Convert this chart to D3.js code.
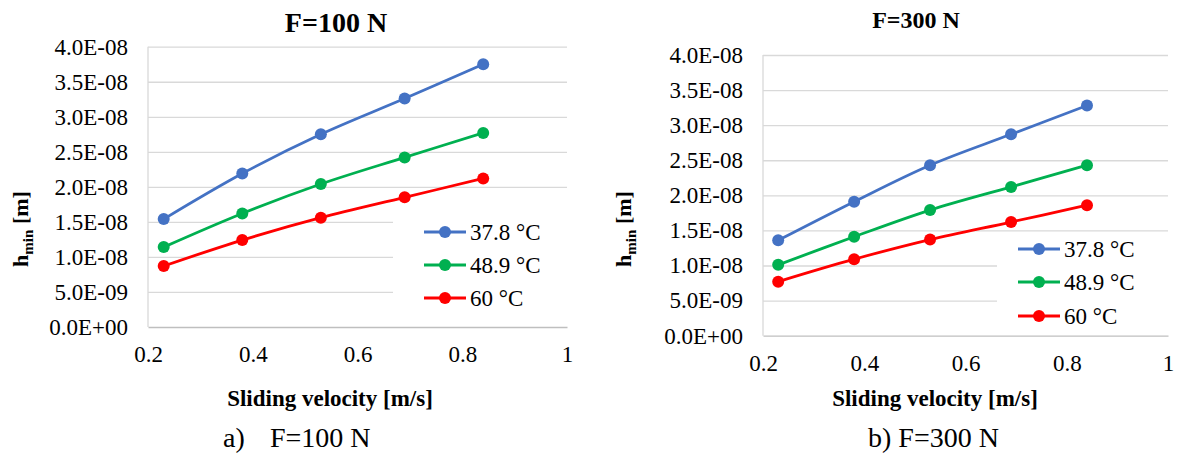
<!DOCTYPE html>
<html>
<head>
<meta charset="utf-8">
<script src="https://cdn.jsdelivr.net/npm/d3@7"></script>
<style>
  body { margin: 0; background: #fff; }
  svg text { font-family: "Liberation Serif", "Times New Roman", serif !important; white-space: pre; fill: #000; }
</style>
</head>
<body>
<div id="chart"></div>
<script>
// sliding velocity [m/s]
var velocity = [0.23, 0.38, 0.53, 0.69, 0.84];

// minimum film thickness [m], F = 100 N
var hmin100_378 = [1.54e-8, 2.19e-8, 2.75e-8, 3.26e-8, 3.75e-8];
var hmin100_489 = [1.14e-8, 1.62e-8, 2.04e-8, 2.42e-8, 2.77e-8];
var hmin100_60 = [0.87e-8, 1.24e-8, 1.56e-8, 1.85e-8, 2.12e-8];

// minimum film thickness [m], F = 300 N
var hmin300_378 = [1.36e-8, 1.91e-8, 2.43e-8, 2.87e-8, 3.28e-8];
var hmin300_489 = [1.01e-8, 1.41e-8, 1.79e-8, 2.12e-8, 2.43e-8];
var hmin300_60 = [0.77e-8, 1.09e-8, 1.37e-8, 1.62e-8, 1.86e-8];

var seriesNames = ["37.8 \u00B0C", "48.9 \u00B0C", "60 \u00B0C"];
var seriesColors = ["#4472C4", "#00B050", "#FF0000"];

var yTicks = [0, 5e-9, 1e-8, 1.5e-8, 2e-8, 2.5e-8, 3e-8, 3.5e-8, 4e-8];
var yTickLabels = ["0.0E+00", "5.0E-09", "1.0E-08", "1.5E-08", "2.0E-08",
                   "2.5E-08", "3.0E-08", "3.5E-08", "4.0E-08"];
var xTicks = [0.2, 0.4, 0.6, 0.8, 1];
var xTickLabels = ["0.2", "0.4", "0.6", "0.8", "1"];

var svg = d3.select("#chart")
    .append("svg")
    .attr("width", 1177)
    .attr("height", 456);

function drawChart(cfg) {
    var x = d3.scaleLinear().domain([0.2, 1]).range([cfg.left, cfg.right]);
    var y = d3.scaleLinear().domain([0, 4e-8]).range([cfg.bottom, cfg.top]);

    // gridlines
    svg.append("g")
        .attr("transform", `translate(${cfg.left},0)`)
        .call(d3.axisLeft(y).tickValues(yTicks.slice(1)).tickSize(-(cfg.right - cfg.left)).tickFormat(""))
        .call(g => g.select(".domain").remove())
        .call(g => g.selectAll("line").attr("stroke", "#d9d9d9").attr("stroke-width", 1.3));

    // vertical axis line
    svg.append("line")
        .attr("x1", cfg.left).attr("x2", cfg.left)
        .attr("y1", cfg.top).attr("y2", cfg.bottom)
        .attr("stroke", "#d9d9d9").attr("stroke-width", 1.3);

    // y tick labels
    svg.append("g")
        .attr("transform", `translate(${cfg.left},0)`)
        .call(d3.axisLeft(y).tickValues(yTicks).tickSize(0).tickPadding(20)
            .tickFormat((d, i) => yTickLabels[i]))
        .call(g => g.select(".domain").remove())
        .call(g => g.selectAll("text").attr("font-size", "23px"));

    // x axis
    svg.append("g")
        .attr("transform", `translate(0,${cfg.bottom})`)
        .call(d3.axisBottom(x).tickValues(xTicks).tickSize(0).tickPadding(19)
            .tickFormat((d, i) => xTickLabels[i]))
        .call(g => g.select(".domain").attr("stroke", "#bfbfbf").attr("stroke-width", 1.3))
        .call(g => g.selectAll("text").attr("font-size", "23px"));

    // legend background
    svg.append("rect")
        .attr("x", cfg.legend.x).attr("y", cfg.legend.y)
        .attr("width", cfg.legend.w).attr("height", cfg.legend.h)
        .attr("fill", "#fff");

    // series
    var line = d3.line()
        .x((d, i) => x(velocity[i]))
        .y(d => y(d))
        .curve(d3.curveCatmullRom);

    cfg.series.forEach(function (vals, k) {
        svg.append("path")
            .datum(vals)
            .attr("d", line)
            .attr("fill", "none")
            .attr("stroke", seriesColors[k])
            .attr("stroke-width", 2.8);
        svg.selectAll(null)
            .data(vals)
            .enter()
            .append("circle")
            .attr("cx", (d, i) => x(velocity[i]))
            .attr("cy", d => y(d))
            .attr("r", 6)
            .attr("fill", seriesColors[k]);
    });

    // legend entries
    seriesNames.forEach(function (name, k) {
        var ly = cfg.legend.rowY[k];
        svg.append("line")
            .attr("x1", cfg.legend.lx).attr("x2", cfg.legend.lx + 42)
            .attr("y1", ly).attr("y2", ly)
            .attr("stroke", seriesColors[k]).attr("stroke-width", 2.8);
        svg.append("circle")
            .attr("cx", cfg.legend.lx + 21).attr("cy", ly).attr("r", 6)
            .attr("fill", seriesColors[k]);
        svg.append("text")
            .attr("x", cfg.legend.lx + 46).attr("y", ly)
            .attr("dy", "0.35em")
            .attr("font-size", "23px")
            .text(name);
    });

    // title
    svg.append("text")
        .attr("x", cfg.titleX).attr("y", cfg.titleY)
        .attr("text-anchor", "middle")
        .attr("font-weight", "bold")
        .attr("font-size", cfg.titleSize)
        .text(cfg.title);

    // y axis title
    var yt = svg.append("text")
        .attr("transform", `translate(${cfg.yTitleX},229) rotate(-90)`)
        .attr("text-anchor", "middle")
        .attr("font-weight", "bold")
        .attr("font-size", "22px");
    yt.append("tspan").text("h");
    yt.append("tspan").attr("font-size", "15px").attr("dy", 5).text("min");
    yt.append("tspan").attr("dy", -5).text(" [m]");

    // x axis title
    svg.append("text")
        .attr("x", cfg.xTitleX).attr("y", 406)
        .attr("text-anchor", "middle")
        .attr("font-weight", "bold")
        .attr("font-size", "23px")
        .text("Sliding velocity [m/s]");

    // caption
    var cap = svg.append("text")
        .attr("y", 447)
        .attr("font-size", "28px");
    cfg.caption.forEach(function (c) {
        cap.append("tspan").attr("x", c.x).text(c.t);
    });
}

drawChart({
    left: 148, right: 567, top: 46.7, bottom: 327,
    series: [hmin100_378, hmin100_489, hmin100_60],
    legend: { x: 393, y: 212, w: 174, h: 102, lx: 424, rowY: [232, 265, 298] },
    title: "F=100 N", titleX: 336, titleY: 32, titleSize: "28px",
    yTitleX: 28, xTitleX: 330,
    caption: [{ x: 223, t: "a)" }, { x: 270, t: "F=100 N" }]
});

drawChart({
    left: 763, right: 1168, top: 55, bottom: 335.7,
    series: [hmin300_378, hmin300_489, hmin300_60],
    legend: { x: 997, y: 233, w: 171, h: 100, lx: 1018, rowY: [249, 282, 316] },
    title: "F=300 N", titleX: 916, titleY: 28, titleSize: "24px",
    yTitleX: 631, xTitleX: 935,
    caption: [{ x: 868, t: "b) F=300 N" }]
});
</script>
</body>
</html>
